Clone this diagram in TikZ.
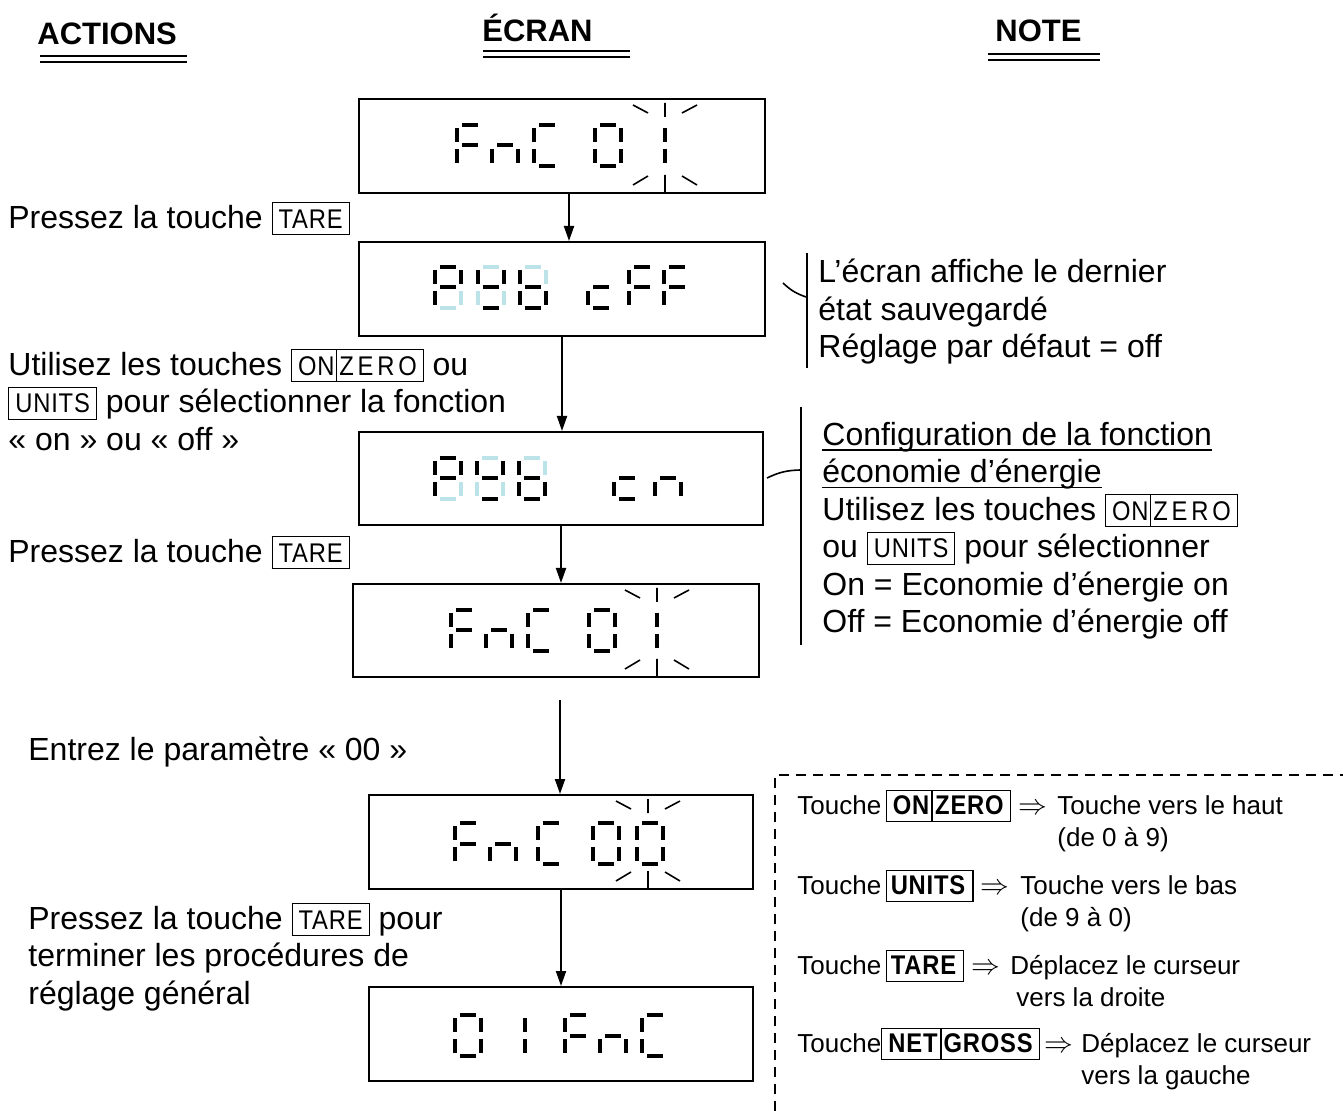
\documentclass[tikz,border=0pt]{standalone}
\usepackage{fontspec}
\setmainfont{Liberation Sans}
\newfontfamily\touchefont[FakeStretch=0.88,LetterSpace=3]{Liberation Sans}
\newfontfamily\touchelarge[FakeStretch=0.88,LetterSpace=14]{Liberation Sans}
\usetikzlibrary{positioning,arrows.meta,calc}
\definecolor{segcyan}{RGB}{188,228,232}
\tikzset{
  ecran/.style    = {draw, line width=1pt, anchor=north west, inner sep=0pt,
                     minimum width=203pt, minimum height=47pt},
  texte/.style    = {font=\fontsize{16}{18.7}\selectfont, align=left, inner sep=0pt,
                     anchor=north west},
  entete/.style   = {font=\fontsize{15.5}{18}\selectfont\bfseries, inner sep=0pt,
                     anchor=base west},
  legende/.style  = {font=\fontsize{13}{16}\selectfont, inner sep=0pt, anchor=base west},
  fleche/.style   = {-{Triangle[length=7.5pt,width=5pt]}, line width=1pt},
  segnoir/.style  = {line width=2pt},
  segpale/.style  = {line width=2pt, draw=segcyan},
  eclat/.style    = {line width=0.8pt},
  soulign/.style  = {line width=1.2pt},
  accolade/.style = {line width=0.8pt},
  cadre/.style    = {line width=0.8pt, dash pattern=on 5pt off 3.5pt}
}

% segments d'un chiffre (origine en haut a gauche)
\expandafter\def\csname segpta\endcsname{(7,2) -- (23,2)}
\expandafter\def\csname segptb\endcsname{(28,5) -- (28,19)}
\expandafter\def\csname segptc\endcsname{(28,26) -- (28,40)}
\expandafter\def\csname segptd\endcsname{(7,43) -- (23,43)}
\expandafter\def\csname segpte\endcsname{(2,26) -- (2,40)}
\expandafter\def\csname segptf\endcsname{(2,5) -- (2,19)}
\expandafter\def\csname segptg\endcsname{(7,22.5) -- (23,22.5)}

\newcommand{\chiffre}[3]{%
  \begin{scope}[shift={(#1,#2)}]
    \foreach \s in {#3}{%
      \expandafter\let\expandafter\cheminseg\csname segpt\s\endcsname
      \draw[segnoir] \cheminseg;}
  \end{scope}}
\newcommand{\chiffrepale}[4]{%
  \chiffre{#1}{#2}{#3}%
  \begin{scope}[shift={(#1,#2)}]
    \foreach \s in {#4}{%
      \expandafter\let\expandafter\cheminseg\csname segpt\s\endcsname
      \draw[segpale] \cheminseg;}
  \end{scope}}
\newcommand{\eclats}[2]{%
  \draw[eclat] (#1,5) -- (#1,19) (#1-32,7) -- (#1-17,15) (#1+17,15) -- (#1+32,7)
    (#1,#2-17) -- (#1,#2) (#1-32,#2-7) -- (#1-17,#2-16) (#1+17,#2-16) -- (#1+32,#2-7);}

% touches
\newcommand{\touche}[1]{{\setlength{\fboxsep}{0pt}\setlength{\fboxrule}{0.5pt}%
  \fbox{\touchefont\fontsize{13.5}{15}\selectfont\rule[-3pt]{0pt}{15.5pt}\hspace{3pt}#1\hspace{3pt}}}}
\newcommand{\touchedeux}[2]{{\setlength{\fboxsep}{0pt}\setlength{\fboxrule}{0.5pt}%
  \fbox{\fontsize{13.5}{15}\selectfont\rule[-3pt]{0pt}{15.5pt}\hspace{3pt}{\touchefont#1}\hspace{0.5pt}\vrule\relax\hspace{1.5pt}{\touchelarge#2}\hspace{3pt}}}}
\newcommand{\toucheg}[1]{{\setlength{\fboxsep}{0pt}\setlength{\fboxrule}{0.6pt}%
  \fbox{\touchefont\bfseries\fontsize{13.5}{15}\selectfont\rule[-3.5pt]{0pt}{15pt}\hspace{2pt}#1\hspace{3.5pt}}}}
\newcommand{\touchegdeux}[2]{{\setlength{\fboxsep}{0pt}\setlength{\fboxrule}{0.6pt}%
  \fbox{\touchefont\bfseries\fontsize{13.5}{15}\selectfont\rule[-3.5pt]{0pt}{15pt}\hspace{3pt}#1\hspace{1pt}\vrule width 1pt\relax\hspace{1pt}#2\hspace{3pt}}}}
\newcommand{\souligne}[1]{{\setbox0=\hbox{#1}\rlap{\rule[-2.5pt]{\wd0}{0.6pt}}\box0}}
\newcommand{\donc}{{\fontsize{15}{16}\selectfont$\Rightarrow$}}

\begin{document}
\begin{tikzpicture}[x=0.5pt, y=-0.5pt]
  \useasboundingbox (0,0) rectangle (1343,1111);

  % en-tetes
  \node[entete] (tActions) at (37,45) {ACTIONS};
  \node[entete] (tEcran) at (482,42) {ÉCRAN};
  \node[entete] (tNote) at (995,42) {NOTE};
  \draw[soulign] (40,56) -- (187,56) (40,62) -- (187,62);
  \draw[soulign] (483,51) -- (630,51) (483,57) -- (630,57);
  \draw[soulign] (988,54) -- (1100,54) (988,60) -- (1100,60);

  % ecrans
  \node[ecran] (ec1) at (358,98) {};
  \node[ecran] (ec2) at (358,241) {};
  \node[ecran, minimum width=202pt, minimum height=46.5pt] (ec3) at (358,431) {};
  \node[ecran, minimum height=46.5pt] (ec4) at (352,583) {};
  \node[ecran, minimum width=192pt] (ec5) at (368,794) {};
  \node[ecran, minimum width=192pt] (ec6) at (368,986) {};

  \begin{scope}[shift={(ec1.north west)}]
    \chiffre{97}{25}{a,f,g,e}
    \chiffre{132}{25}{e,g,c}
    \chiffre{174}{25}{a,f,e,d}
    \chiffre{235}{25}{a,b,c,d,e,f}
    \chiffre{279}{25}{b,c}
    \eclats{307}{94}
  \end{scope}
  \begin{scope}[shift={(ec2.north west)}]
    \chiffrepale{75}{24}{a,b,f,g,e}{c,d}
    \chiffrepale{118}{24}{f,b,g,d}{a,e,c}
    \chiffrepale{160}{24}{f,g,e,d,c}{a,b}
    \chiffre{228}{24}{g,e,d}
    \chiffre{269}{24}{a,f,g,e}
    \chiffre{304}{24}{a,f,g,e}
  \end{scope}
  \begin{scope}[shift={(ec3.north west)}]
    \chiffrepale{75}{25}{a,b,f,g,e}{c,d}
    \chiffrepale{117}{25}{f,b,g,d}{a,e,c}
    \chiffrepale{159}{25}{f,g,e,d,c}{a,b}
    \chiffre{254}{25}{g,e,d}
    \chiffre{295}{25}{e,g,c}
  \end{scope}
  \begin{scope}[shift={(ec4.north west)}]
    \chiffre{97}{25}{a,f,g,e}
    \chiffre{132}{25}{e,g,c}
    \chiffre{174}{25}{a,f,e,d}
    \chiffre{235}{25}{a,b,c,d,e,f}
    \chiffre{277}{25}{b,c}
    \eclats{305}{93}
  \end{scope}
  \begin{scope}[shift={(ec5.north west)}]
    \chiffre{85}{27}{a,f,g,e}
    \chiffre{120}{27}{e,g,c}
    \chiffre{168}{27}{a,f,e,d}
    \chiffre{223}{27}{a,b,c,d,e,f}
    \chiffre{267}{27}{a,b,c,d,e,f}
    \eclats{280}{94}
  \end{scope}
  \begin{scope}[shift={(ec6.north west)}]
    \chiffre{85}{27}{a,b,c,d,e,f}
    \chiffre{129}{27}{b,c}
    \chiffre{195}{27}{a,f,g,e}
    \chiffre{230}{27}{e,g,c}
    \chiffre{272}{27}{a,f,e,d}
  \end{scope}

  \draw[fleche] ([xshift=3.5pt]ec1.south) -- ([xshift=3.5pt]ec2.north);
  \draw[fleche] (ec2.south) -- (ec2.south |- ec3.north);
  \draw[fleche] (ec3.south) -- (ec3.south |- ec4.north);
  \draw[fleche, shorten <=11pt] ([xshift=2pt]ec4.south) -- ([xshift=2pt]ec4.south |- ec5.north);
  \draw[fleche] (ec5.south) -- (ec6.north);

  % actions
  \node[texte] (act1) at (8,202) {Pressez la touche \touche{TARE}};
  \node[texte] (act2) at (8,349) {Utilisez les touches \touchedeux{ON}{ZERO} ou\\
    \touche{UNITS} pour sélectionner la fonction\\« on » ou « off »};
  \node[texte] (act3) at (8,536) {Pressez la touche \touche{TARE}};
  \node[texte] (act4) at (28,737) {Entrez le paramètre « 00 »};
  \node[texte] (act5) at (28,903) {Pressez la touche \touche{TARE} pour\\
    terminer les procédures de\\réglage général};

  % notes
  \node[texte] (note1) at (818,259) {L’écran affiche le dernier\\état sauvegardé\\
    Réglage par défaut = off};
  \node[texte] (note2) at (822,422) {\souligne{Configuration de la fonction}\\
    \souligne{économie d’énergie}\\Utilisez les touches \touchedeux{ON}{ZERO}\\
    ou \touche{UNITS} pour sélectionner\\On = Economie d’énergie on\\
    Off = Economie d’énergie off};
  \draw[accolade] (807,253) -- (807,368);
  \draw[accolade] (783,283) to[bend right=12] (806,297);
  \draw[accolade] (801,407) -- (801,645);
  \draw[accolade] (767,478) to[bend left=12] (800,470);

  % legende des touches
  \draw[cadre] (775,1111) -- (775,775) -- (1343,775);
  \node[legende] (lg1) at (797,814) {Touche\,\touchegdeux{ON}{ZERO} \donc};
  \node[legende] (lg1t) at (1057,814) {\begin{tabular}[t]{@{}l@{}}Touche vers le haut\\(de 0 à 9)\end{tabular}};
  \node[legende] (lg2) at (797,894) {Touche\,\toucheg{UNITS} \donc};
  \node[legende] (lg2t) at (1020,894) {\begin{tabular}[t]{@{}l@{}}Touche vers le bas\\(de 9 à 0)\end{tabular}};
  \node[legende] (lg3) at (797,974) {Touche\,\toucheg{TARE} \donc};
  \node[legende] (lg3t) at (1010,974) {\begin{tabular}[t]{@{}l@{}}Déplacez le curseur\\\hspace{3pt}vers la droite\end{tabular}};
  \node[legende] (lg4) at (797,1052) {Touche\touchegdeux{NET}{GROSS}\,\donc};
  \node[legende] (lg4t) at (1081,1052) {\begin{tabular}[t]{@{}l@{}}Déplacez le curseur\\vers la gauche\end{tabular}};
\end{tikzpicture}
\end{document}
